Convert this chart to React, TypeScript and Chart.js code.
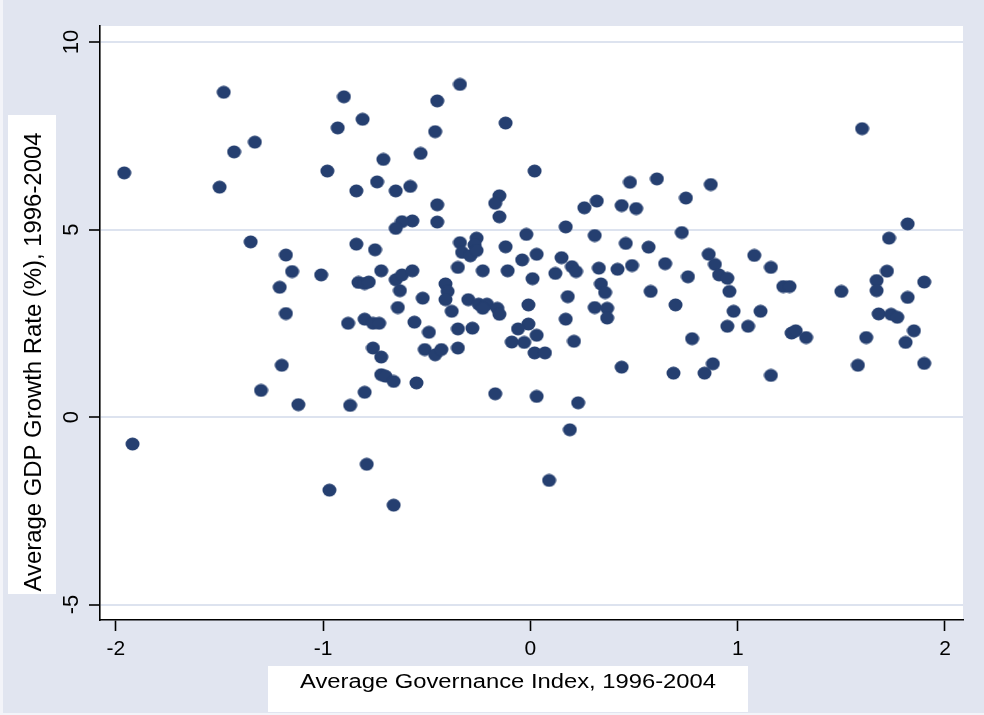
import { useEffect, useRef } from "react";
import { Chart, registerables } from "chart.js";

Chart.register(...registerables);

// Average governance index (x) and average GDP growth (y), one entry per country
const govIndex = [
  -1.96, -1.48, -1.43, -1.33, -1.5, -0.98, -1.35, -1.18, -1.15, -1.01,
  -1.21, -1.18, -1.2, -1.3, -1.12, -1.92, -0.97,
  -0.9, -0.93, -0.81, -0.71, -0.74, -0.84, -0.65, -0.58, -0.53, -0.45,
  -0.46, -0.34, -0.12, 0.02, -0.45, -0.45, -0.57, -0.62, -0.65, -0.15,
  -0.17, -0.15, -0.02, 0.03, -0.12, -0.84, -0.75, -0.34, -0.26, -0.27,
  -0.33, -0.29, -0.26, -0.04,
  -0.72, -0.83, -0.8, -0.78, -0.65, -0.62, -0.63, -0.57, -0.35, -0.23,
  -0.11, 0.01, -0.41, -0.4, -0.41, -0.52, -0.64, -0.38, -0.3, -0.25,
  -0.21, -0.23, -0.16, -0.15, -0.01, -0.01, -0.06, -0.09, -0.03, 0.03,
  0.02, 0.07, -0.88, -0.8, -0.76, -0.73, -0.56, -0.49, -0.35, -0.28,
  -0.76, -0.72, -0.51, -0.46, -0.43, -0.35, -0.72, -0.7, -0.66, -0.55,
  -0.8, -0.87, -0.17, 0.03, -0.79, -0.66, 0.09,
  0.48, 0.61, 0.87, 0.75, 0.26, 0.32, 0.44, 0.51, 0.17, 0.31,
  0.73, 0.46, 0.57, 0.15, 0.2, 0.22, 0.12, 0.33, 0.42, 0.49,
  0.65, 0.76, 0.86, 0.89, 0.91, 0.95, 0.96, 1.08, 1.16, 0.34,
  0.36, 0.18, 0.58, 0.31, 0.37, 0.37, 0.17, 0.7, 0.98, 1.11,
  0.95, 1.05, 0.21, 0.78, 0.44, 0.69, 0.84, 0.88, 1.16, 0.23, 0.19,
  1.6, 1.82, 1.73, 1.22, 1.25, 1.5, 1.67, 1.67, 1.72, 1.9,
  1.82, 1.26, 1.28, 1.33, 1.68, 1.74, 1.77, 1.85, 1.62, 1.81,
  1.58, 1.9,
];

const gdpGrowth = [
  6.51, 8.66, 7.07, 7.33, 6.13, 6.56, 4.67, 4.32, 3.88, 3.79,
  3.46, 2.76, 1.38, 0.71, 0.33, -0.72, -1.95,
  8.54, 7.71, 7.94, 6.87, 6.27, 6.03, 6.03, 6.15, 7.03, 8.43,
  7.61, 8.87, 7.84, 6.56, 5.66, 5.2, 5.23, 5.21, 5.03, 5.9,
  5.7, 5.34, 4.87, 4.34, 4.54, 4.61, 4.46, 4.65, 4.77, 4.59,
  4.39, 4.3, 4.44, 4.19,
  3.9, 3.59, 3.56, 3.6, 3.66, 3.79, 3.37, 3.9, 3.99, 3.9,
  3.9, 3.69, 3.55, 3.35, 3.13, 3.17, 2.92, 2.82, 3.13, 3.01,
  3.01, 2.9, 2.9, 2.74, 2.99, 2.48, 2.35, 2.0, 1.99, 2.18,
  1.71, 1.71, 2.5, 2.61, 2.5, 2.5, 2.53, 2.26, 2.35, 2.37,
  1.84, 1.6, 1.8, 1.66, 1.8, 1.84, 1.13, 1.09, 0.95, 0.91,
  0.66, 0.31, 0.62, 0.55, -1.26, -2.35, -1.69,
  6.26, 6.35, 6.2, 5.84, 5.58, 5.76, 5.64, 5.56, 5.07, 4.84,
  4.92, 4.63, 4.53, 4.25, 4.01, 3.88, 3.83, 3.97, 3.94, 4.04,
  4.09, 3.74, 4.34, 4.07, 3.79, 3.7, 3.35, 4.31, 3.99, 3.55,
  3.32, 3.21, 3.35, 2.92, 2.9, 2.64, 2.61, 2.99, 2.82, 2.82,
  2.42, 2.42, 2.02, 2.09, 1.33, 1.17, 1.17, 1.42, 1.11, 0.38, -0.34,
  7.69, 5.15, 4.77, 3.48, 3.48, 3.35, 3.64, 3.37, 3.89, 3.6,
  3.19, 2.24, 2.3, 2.12, 2.75, 2.74, 2.66, 2.3, 2.12, 1.99,
  1.38, 1.43,
];

const xTickValues = [-2, -1, 0, 1, 2];
const yTickValues = [-5, 0, 5, 10];

const xTitle = "Average Governance Index, 1996-2004";
const yTitle = "Average GDP Growth Rate (%), 1996-2004";

const FONT = "'Liberation Sans', Arial, Helvetica, sans-serif";
const BG = "#e1e5f0";
const EDGE = "#f3f4f9";
const MARKER = "#253f70";
const GRID = "#dde3ef";

// Slightly wide oval marker
function makeMarker(): HTMLCanvasElement {
  const c = document.createElement("canvas");
  c.width = 15;
  c.height = 14;
  const g = c.getContext("2d")!;
  g.fillStyle = MARKER;
  g.beginPath();
  g.ellipse(7.5, 7, 7.0, 6.5, 0, 0, Math.PI * 2);
  g.fill();
  return c;
}

// Graph region background, white plot region and boxed axis titles
const framePlugin = {
  id: "frame",
  beforeDraw(chart: any) {
    const { ctx, width, height, chartArea: a } = chart;
    ctx.save();
    ctx.fillStyle = BG;
    ctx.fillRect(0, 0, width, height);
    ctx.fillStyle = EDGE;
    ctx.fillRect(0, 0, 3, height);
    ctx.fillRect(0, height - 2, width, 2);
    ctx.fillStyle = "#ffffff";
    ctx.fillRect(a.left, a.top, a.right - a.left, a.bottom - a.top);
    ctx.restore();
  },
  afterDraw(chart: any) {
    const { ctx } = chart;
    ctx.save();

    // y title
    ctx.fillStyle = "#ffffff";
    ctx.fillRect(8, 115, 48, 479);
    ctx.fillStyle = "#000000";
    ctx.font = `23px ${FONT}`;
    ctx.textAlign = "center";
    ctx.textBaseline = "alphabetic";
    const yw = ctx.measureText(yTitle).width;
    ctx.translate(41, 362);
    ctx.rotate(-Math.PI / 2);
    ctx.scale(459 / yw, 1);
    ctx.fillText(yTitle, 0, 0);
    ctx.restore();

    // x title
    ctx.save();
    ctx.fillStyle = "#ffffff";
    ctx.fillRect(268, 666, 480, 46);
    ctx.fillStyle = "#000000";
    ctx.font = `20px ${FONT}`;
    ctx.textAlign = "center";
    ctx.textBaseline = "alphabetic";
    const xw = ctx.measureText(xTitle).width;
    ctx.translate(508, 688);
    ctx.scale(416 / xw, 1);
    ctx.fillText(xTitle, 0, 0);
    ctx.restore();
  },
};

export default function App() {
  const canvasRef = useRef<HTMLCanvasElement | null>(null);

  useEffect(() => {
    const canvas = canvasRef.current;
    if (!canvas) return;
    const marker = makeMarker();
    const points = govIndex.map((x, i) => ({ x, y: gdpGrowth[i] }));

    const chart = new Chart(canvas, {
      type: "scatter",
      data: {
        datasets: [
          {
            label: "GDP growth",
            data: points,
            pointStyle: marker as any,
            pointRadius: 6,
            backgroundColor: MARKER,
            borderColor: MARKER,
          },
        ],
      },
      options: {
        animation: false,
        responsive: false,
        devicePixelRatio: 1,
        events: [],
        layout: { padding: { top: 26, right: 21, left: 0, bottom: 0 } },
        plugins: {
          legend: { display: false },
          tooltip: { enabled: false },
        },
        scales: {
          x: {
            type: "linear",
            min: -2.077,
            max: 2.087,
            afterBuildTicks: (s: any) => {
              s.ticks = xTickValues.map((v) => ({ value: v }));
            },
            afterFit: (s: any) => {
              s.height = 95;
            },
            grid: {
              drawOnChartArea: false,
              drawTicks: true,
              tickLength: 11,
              tickColor: "#000000",
              tickWidth: 1.6,
            },
            border: { display: true, color: "#000000", width: 1.6 },
            ticks: {
              color: "#000000",
              font: { family: FONT, size: 21 },
              padding: 6,
              minRotation: 0,
              maxRotation: 0,
              autoSkip: false,
              callback: (v: any) => String(v),
            },
          },
          y: {
            type: "linear",
            min: -5.413,
            max: 10.427,
            afterBuildTicks: (s: any) => {
              s.ticks = yTickValues.map((v) => ({ value: v }));
            },
            afterFit: (s: any) => {
              s.width = 100;
            },
            grid: {
              color: GRID,
              lineWidth: 2,
              drawTicks: true,
              tickLength: 11,
              tickColor: "#000000",
              tickWidth: 1.6,
            },
            border: { display: true, color: "#000000", width: 1.6 },
            ticks: {
              color: "#000000",
              font: { family: FONT, size: 22 },
              padding: 5,
              minRotation: 90,
              maxRotation: 90,
              crossAlign: "center",
              autoSkip: false,
              callback: (v: any) => String(v),
            },
          },
        },
      },
      plugins: [framePlugin],
    });

    return () => chart.destroy();
  }, []);

  return (
    <div style={{ position: "fixed", left: 0, top: 0, width: 984, height: 715 }}>
      <canvas ref={canvasRef} width={984} height={715} style={{ display: "block" }} />
    </div>
  );
}
